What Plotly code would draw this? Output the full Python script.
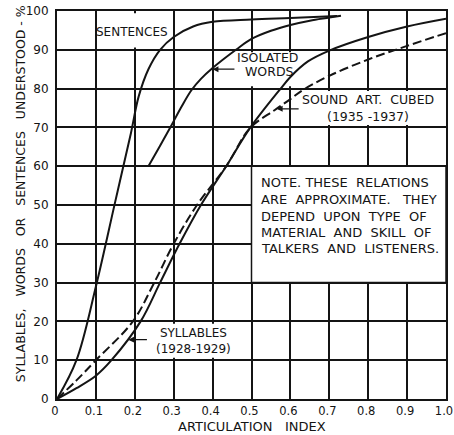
import plotly.graph_objects as go

# ---------------- data ----------------
x_tick_vals = [0, 0.1, 0.2, 0.3, 0.4, 0.5, 0.6, 0.7, 0.8, 0.9, 1.0]
x_tick_text = ["0", "0.1", "0.2", "0.3", "0.4", "0.5", "0.6", "0.7", "0.8", "0.9", "1.0"]
y_tick_vals = [0, 10, 20, 30, 40, 50, 60, 70, 80, 90, 100]

sentences_x = [0, 0.05, 0.10, 0.15, 0.19, 0.21, 0.235, 0.265, 0.30, 0.35, 0.40, 0.50, 0.60, 0.72]
sentences_y = [0, 10, 29, 51, 68.5, 78, 85, 90, 93.3, 96, 97.2, 97.8, 98.2, 98.7]

isolated_x = [0.235, 0.265, 0.294, 0.32, 0.345, 0.37, 0.40, 0.46, 0.50, 0.55, 0.60, 0.65, 0.70, 0.73]
isolated_y = [60, 65.3, 70.5, 75.3, 79.5, 82.5, 85.3, 90, 92.8, 94.9, 96.4, 97.5, 98.3, 98.8]

syllables_x = [0, 0.05, 0.10, 0.14, 0.215, 0.265, 0.315, 0.37, 0.435, 0.496, 0.575, 0.60, 0.645, 0.70, 0.80, 0.90, 1.0]
syllables_y = [0, 2.8, 6, 10, 20, 30, 40, 50, 60, 69.8, 80, 83, 87, 89.8, 93.3, 96, 98]

sound_x = [0, 0.05, 0.10, 0.195, 0.25, 0.30, 0.36, 0.435, 0.496, 0.56, 0.60, 0.63, 0.70, 0.80, 0.90, 1.0]
sound_y = [0, 4.8, 10, 20, 30, 40, 50, 60, 69.8, 74.5, 77.3, 79.5, 83.3, 87.5, 91, 94.3]

note_lines = ["NOTE. THESE  RELATIONS",
              "ARE  APPROXIMATE.   THEY",
              "DEPEND  UPON  TYPE  OF",
              "MATERIAL  AND  SKILL  OF",
              "TALKERS  AND  LISTENERS."]
note_line_y = [55.7, 51.3, 47.0, 42.8, 38.7]

INK = "#141414"
FONT = "DejaVu Sans"

fig = go.Figure()

def curve(x, y, dash="solid"):
    fig.add_trace(go.Scatter(
        x=x, y=y, mode="lines", showlegend=False, hoverinfo="skip",
        line=dict(color=INK, width=2, dash=dash, shape="spline", smoothing=1.0)))

curve(sentences_x, sentences_y)
curve(isolated_x, isolated_y)
curve(syllables_x, syllables_y)
curve(sound_x, sound_y, dash="9px,4px")

# white label boxes hiding the grid (between grid and traces)
shapes = []
def box(x0, x1, y0, y1, border=False):
    shapes.append(dict(type="rect", xref="x", yref="y", x0=x0, x1=x1, y0=y0, y1=y1,
                       fillcolor="white", layer="between",
                       line=dict(color=INK if border else "rgba(0,0,0,0)", width=1.5)))

box(0.11, 0.29, 90.6, 99.4)        # SENTENCES
box(0.42, 0.69, 80.6, 89.4)        # ISOLATED WORDS
box(0.61, 0.99, 70.6, 79.4)        # SOUND ART. CUBED
box(0.21, 0.49, 10.6, 19.4)        # SYLLABLES
box(0.5, 1.0, 30, 60, border=True) # NOTE

ann = []
def label(x, y, text, size=12.5, xanchor="center"):
    ann.append(dict(x=x, y=y, xref="x", yref="y", text=text, showarrow=False,
                    xanchor=xanchor, yanchor="middle",
                    font=dict(family=FONT, size=size, color=INK)))

def arrow(x_tip, y_tip, x_tail, y_tail):
    ann.append(dict(x=x_tip, y=y_tip, ax=x_tail, ay=y_tail, xref="x", yref="y",
                    axref="x", ayref="y", text="", showarrow=True,
                    arrowhead=2, arrowsize=0.9, arrowwidth=1.3, arrowcolor=INK))

label(0.193, 94.6, "SENTENCES", size=12)
label(0.54, 87.9, "ISOLATED")
label(0.545, 84.3, "WORDS")
label(0.80, 77.3, "SOUND  ART.  CUBED")
label(0.80, 72.7, "(1935 -1937)")
label(0.352, 15.0, "SYLLABLES<br>(1928-1929)", size=12)
for t, yy in zip(note_lines, note_line_y):
    label(0.52, yy, t, size=13, xanchor="left")

arrow(0.40, 85.0, 0.46, 85.0)
arrow(0.565, 74.8, 0.625, 74.8)
arrow(0.183, 15.3, 0.235, 15.3)

# axis titles
ann.append(dict(x=0.5, y=-0.072, xref="paper", yref="paper", text="ARTICULATION   INDEX",
                showarrow=False, xanchor="center", yanchor="middle",
                font=dict(family=FONT, size=13, color=INK)))
ann.append(dict(x=-0.095, y=0.528, xref="paper", yref="paper",
                text="SYLLABLES,   WORDS   OR   SENTENCES   UNDERSTOOD - %",
                textangle=-90, showarrow=False, xanchor="center", yanchor="middle",
                font=dict(family=FONT, size=12.5, color=INK)))

axis_common = dict(showgrid=True, gridcolor=INK, gridwidth=1.5, zeroline=False,
                   showline=True, mirror=True, linecolor=INK, linewidth=2,
                   ticks="", automargin=False, ticklabeloverflow="allow")

fig.update_layout(
    width=454, height=435,
    margin=dict(l=57, r=8, t=11, b=36),
    paper_bgcolor="white", plot_bgcolor="white",
    xaxis=dict(range=[0, 1], tickvals=x_tick_vals, ticktext=x_tick_text,
               ticklabelstandoff=0, ticklabelshift=-2,
               tickfont=dict(family=FONT, size=11.5, color=INK), **axis_common),
    yaxis=dict(range=[0, 100], tickvals=y_tick_vals, ticklabelstandoff=4,
               tickfont=dict(family=FONT, size=12, color=INK), **axis_common),
    shapes=shapes, annotations=ann,
)

fig.write_html("out.html", config={"displayModeBar": False},
               post_script="document.body.style.margin='0';document.body.style.overflow='hidden';")
